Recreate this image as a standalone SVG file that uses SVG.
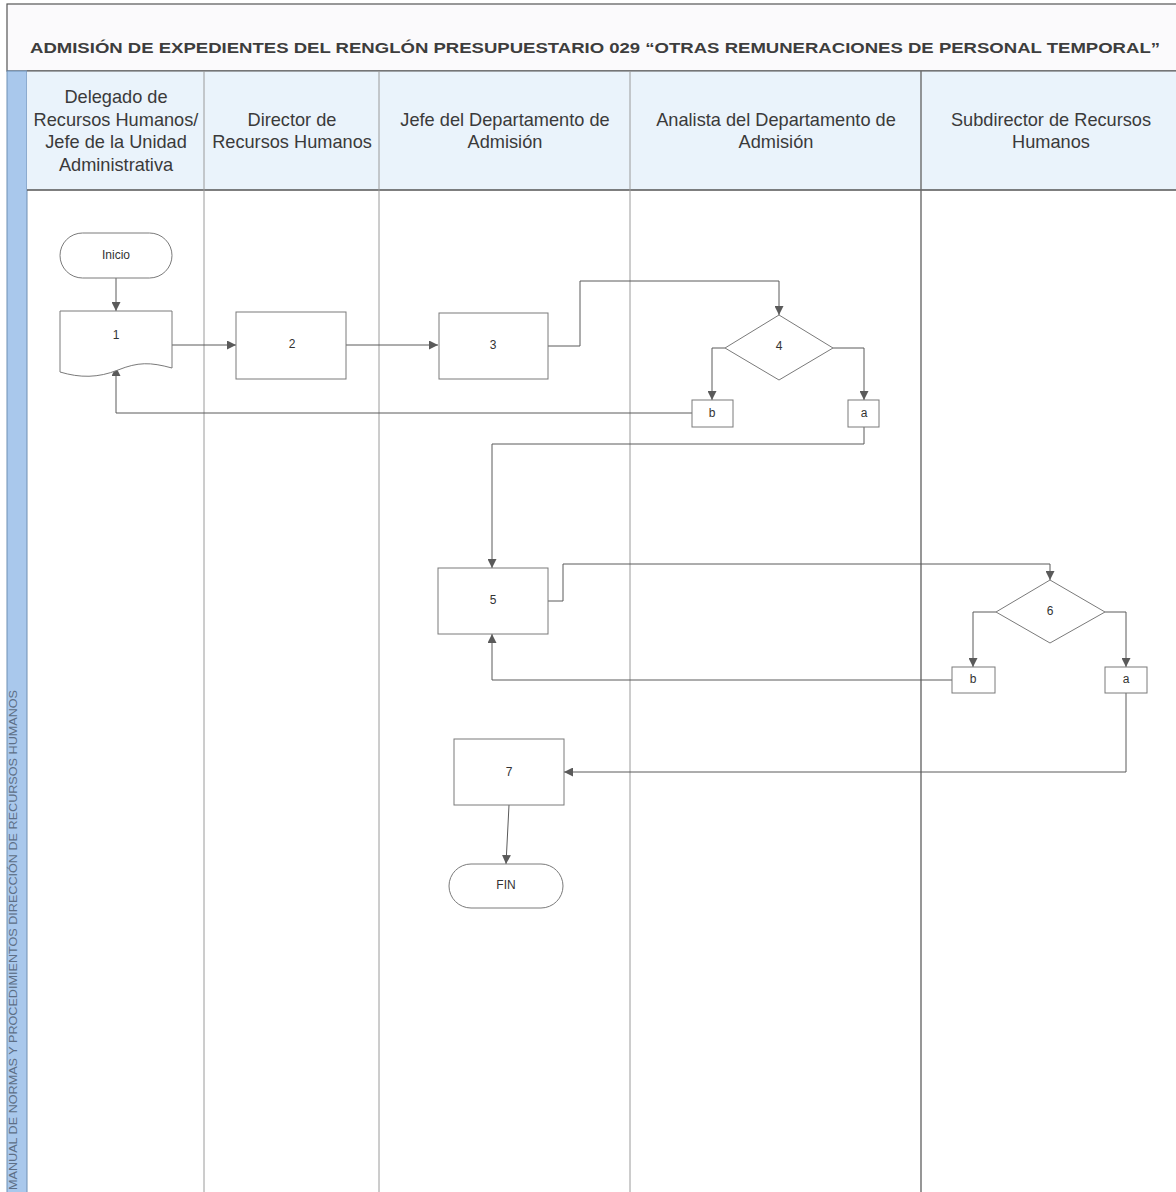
<svg xmlns="http://www.w3.org/2000/svg" width="1176" height="1192" viewBox="0 0 1176 1192">
  <style>
    .hdr { font-family: "Liberation Sans", Arial, sans-serif; font-size: 18.2px; fill: #3a3a3a; text-anchor: middle; }
    .lbl { font-family: "Liberation Sans", Arial, sans-serif; font-size: 12px; fill: #333; text-anchor: middle; dominant-baseline: middle; }
    .shape { fill: #ffffff; stroke: #7a7a7a; stroke-width: 1; }
    .lane { stroke: #9a9a9a; stroke-width: 1; }
    .conn { fill: none; stroke: #5a5a5a; stroke-width: 1; }
  </style>
  <defs>
    <marker id="arrow" viewBox="0 0 10 10" refX="10" refY="5" markerWidth="9" markerHeight="9" markerUnits="userSpaceOnUse" orient="auto">
      <path d="M0,0 L10,5 L0,10 z" fill="#5a5a5a"/>
    </marker>
  </defs>

  <!-- page background -->
  <rect x="0" y="0" width="1176" height="1192" fill="#ffffff"/>

  <!-- title band -->
  <rect x="7" y="4" width="1180" height="67" fill="#fbfafc" stroke="#555" stroke-width="1.2"/>
  <text x="595" y="53" font-family="Liberation Sans, Arial, sans-serif" font-size="15.5" font-weight="bold" fill="#3d3d3d" text-anchor="middle" textLength="1130" lengthAdjust="spacingAndGlyphs">ADMISIÓN DE EXPEDIENTES DEL RENGLÓN PRESUPUESTARIO 029 “OTRAS REMUNERACIONES DE PERSONAL TEMPORAL”</text>

  <!-- side strip -->
  <rect x="7" y="71" width="20" height="1125" fill="#a9c8ec" stroke="#6f8fb3" stroke-width="1"/>
  <text transform="translate(17,1190) rotate(-90)" font-family="Liberation Sans, Arial, sans-serif" font-size="10.5" fill="#5d6f86" textLength="500" lengthAdjust="spacingAndGlyphs">MANUAL DE NORMAS Y PROCEDIMIENTOS DIRECCIÓN DE RECURSOS HUMANOS</text>

  <!-- lane header row -->
  <rect x="27" y="71" width="1160" height="119" fill="#eaf3fb"/>
  <line x1="27" y1="71" x2="1176" y2="71" stroke="#555" stroke-width="1.2"/>
  <line x1="27" y1="190" x2="1176" y2="190" stroke="#555" stroke-width="1.4"/>

  <!-- lane dividers -->
  <g id="lanes">
    <line class="lane" x1="204" y1="71" x2="204" y2="1192"/>
    <line class="lane" x1="379" y1="71" x2="379" y2="1192"/>
    <line class="lane" x1="630" y1="71" x2="630" y2="1192"/>
    <line x1="921" y1="71" x2="921" y2="1192" stroke="#6a6a6a" stroke-width="1.4"/>
  </g>

  <!-- lane titles -->
  <g id="lane-titles">
    <text class="hdr" x="116" y="103">Delegado de</text>
    <text class="hdr" x="116" y="126">Recursos Humanos/</text>
    <text class="hdr" x="116" y="148">Jefe de la Unidad</text>
    <text class="hdr" x="116" y="171">Administrativa</text>
    <text class="hdr" x="292" y="126">Director de</text>
    <text class="hdr" x="292" y="148">Recursos Humanos</text>
    <text class="hdr" x="505" y="126">Jefe del Departamento de</text>
    <text class="hdr" x="505" y="148">Admisión</text>
    <text class="hdr" x="776" y="126">Analista del Departamento de</text>
    <text class="hdr" x="776" y="148">Admisión</text>
    <text class="hdr" x="1051" y="126">Subdirector de Recursos</text>
    <text class="hdr" x="1051" y="148">Humanos</text>
  </g>

  <!-- connectors -->
  <g id="connectors">
    <path class="conn" d="M116,278 V311" marker-end="url(#arrow)"/>
    <path class="conn" d="M172,345 H236" marker-end="url(#arrow)"/>
    <path class="conn" d="M346,345 H438" marker-end="url(#arrow)"/>
    <path class="conn" d="M548,346 H580 V281 H779 V315" marker-end="url(#arrow)"/>
    <path class="conn" d="M725,348 H712 V400" marker-end="url(#arrow)"/>
    <path class="conn" d="M833,348 H864 V400" marker-end="url(#arrow)"/>
    <path class="conn" d="M692,413 H116 V367" marker-end="url(#arrow)"/>
    <path class="conn" d="M864,427 V444 H492 V568" marker-end="url(#arrow)"/>
    <path class="conn" d="M548,601 H563 V564 H1050 V580" marker-end="url(#arrow)"/>
    <path class="conn" d="M996,612 H973 V667" marker-end="url(#arrow)"/>
    <path class="conn" d="M1105,612 H1126 V667" marker-end="url(#arrow)"/>
    <path class="conn" d="M952,680 H492 V634" marker-end="url(#arrow)"/>
    <path class="conn" d="M1126,693 V772 H564" marker-end="url(#arrow)"/>
    <path class="conn" d="M509,805 L506,864" marker-end="url(#arrow)"/>
  </g>

  <!-- nodes -->
  <g id="inicio">
    <rect class="shape" x="60" y="233" width="112" height="45" rx="22.5"/>
    <text class="lbl" x="116" y="256">Inicio</text>
  </g>
  <g id="n1">
    <path class="shape" d="M60,311 H172 V368 C150,362 138,362 118,370 C98,378 80,378 60,372 Z"/>
    <text class="lbl" x="116" y="336">1</text>
  </g>
  <g id="n2">
    <rect class="shape" x="236" y="312" width="110" height="67"/>
    <text class="lbl" x="292" y="345">2</text>
  </g>
  <g id="n3">
    <rect class="shape" x="439" y="313" width="109" height="66"/>
    <text class="lbl" x="493" y="346">3</text>
  </g>
  <g id="n4">
    <path class="shape" d="M779,315 L833,348 L779,380 L725,348 Z"/>
    <text class="lbl" x="779" y="347">4</text>
  </g>
  <g id="n4b">
    <rect class="shape" x="692" y="400" width="41" height="27"/>
    <text class="lbl" x="712" y="414">b</text>
  </g>
  <g id="n4a">
    <rect class="shape" x="848" y="400" width="31" height="27"/>
    <text class="lbl" x="864" y="414">a</text>
  </g>
  <g id="n5">
    <rect class="shape" x="438" y="568" width="110" height="66"/>
    <text class="lbl" x="493" y="601">5</text>
  </g>
  <g id="n6">
    <path class="shape" d="M1050,580 L1105,612 L1050,643 L996,612 Z"/>
    <text class="lbl" x="1050" y="612">6</text>
  </g>
  <g id="n6b">
    <rect class="shape" x="952" y="667" width="43" height="26"/>
    <text class="lbl" x="973" y="680">b</text>
  </g>
  <g id="n6a">
    <rect class="shape" x="1105" y="667" width="42" height="26"/>
    <text class="lbl" x="1126" y="680">a</text>
  </g>
  <g id="n7">
    <rect class="shape" x="454" y="739" width="110" height="66"/>
    <text class="lbl" x="509" y="773">7</text>
  </g>
  <g id="fin">
    <rect class="shape" x="449" y="864" width="114" height="44" rx="22"/>
    <text class="lbl" x="506" y="886">FIN</text>
  </g>
</svg>
